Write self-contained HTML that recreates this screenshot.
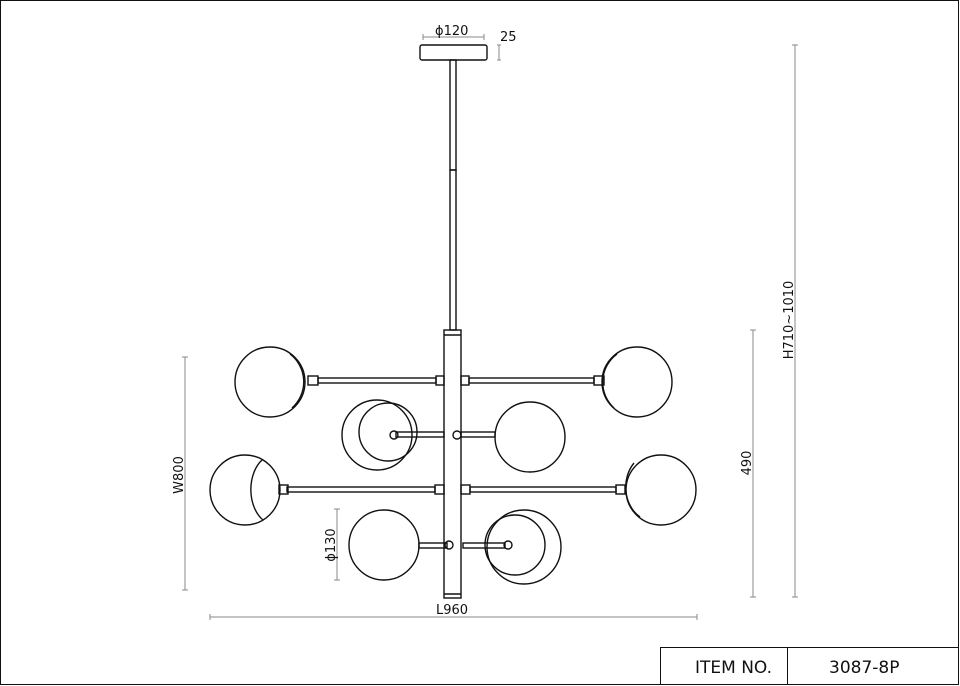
<!DOCTYPE html>
<html><head><style>
html,body{margin:0;padding:0;background:#fff;}
svg{display:block;}
text{font-family:"DejaVu Sans","Liberation Sans",sans-serif;fill:#111;}
</style></head><body>
<svg width="960" height="686" viewBox="0 0 960 686" xmlns="http://www.w3.org/2000/svg">
<rect x="0.5" y="0.5" width="958" height="684" fill="none" stroke="#111" stroke-width="1"/>
<rect x="660.5" y="647.5" width="298" height="37" fill="none" stroke="#111"/>
<line x1="787.5" y1="647" x2="787.5" y2="685" stroke="#111"/>
<text x="695" y="673" font-size="17">ITEM NO.</text>
<text x="829" y="673" font-size="17">3087-8P</text>

<g fill="none" stroke="#111" stroke-width="1.4">
<rect x="420" y="45" width="67" height="15" rx="2"/>
<rect x="450" y="60" width="6" height="110"/>
<rect x="450" y="170" width="6" height="160"/>
<rect x="444" y="330" width="17" height="268"/>
<line x1="444" y1="335" x2="461" y2="335"/>
<line x1="444" y1="594" x2="461" y2="594"/>

<rect x="318" y="378" width="118" height="5"/>
<rect x="308" y="376" width="10" height="9"/>
<rect x="436" y="376" width="8" height="9"/>
<rect x="461" y="376" width="8" height="9"/>
<rect x="469" y="378" width="125" height="5"/>
<rect x="594" y="376" width="10" height="9"/>
<circle cx="270" cy="382" r="35"/>
<path d="M290 354 A35 35 0 0 1 292 408"/>
<circle cx="637" cy="382" r="35"/>
<path d="M617 354 A35 35 0 0 0 614 408"/>

<circle cx="377" cy="435" r="35"/>
<circle cx="388" cy="432" r="29"/>
<rect x="396" y="432" width="48" height="5"/>
<circle cx="394" cy="435" r="4"/>
<rect x="461" y="432" width="34" height="5"/>
<circle cx="457" cy="435" r="4"/>
<circle cx="530" cy="437" r="35"/>

<rect x="287" y="487" width="148" height="5"/>
<rect x="279" y="485" width="9" height="9"/>
<rect x="435" y="485" width="9" height="9"/>
<rect x="461" y="485" width="9" height="9"/>
<rect x="470" y="487" width="146" height="5"/>
<rect x="616" y="485" width="9" height="9"/>
<circle cx="245" cy="490" r="35"/>
<path d="M262 460 A24 35 0 0 0 263 520"/>
<circle cx="661" cy="490" r="35"/>
<path d="M634 463 A30 35 0 0 0 640 517"/>

<circle cx="384" cy="545" r="35"/>
<rect x="419" y="543" width="28" height="5"/>
<circle cx="449" cy="545" r="4"/>
<rect x="463" y="543" width="42" height="5"/>
<circle cx="508" cy="545" r="4"/>
<circle cx="524" cy="547" r="37"/>
<circle cx="515" cy="545" r="30"/>
</g>

<g stroke="#888" stroke-width="1" fill="none">
<line x1="423" y1="37" x2="484" y2="37"/>
<line x1="423" y1="34" x2="423" y2="40"/><line x1="484" y1="34" x2="484" y2="40"/>
<line x1="499" y1="45" x2="499" y2="60"/>
<line x1="497" y1="45" x2="501" y2="45"/><line x1="497" y1="60" x2="501" y2="60"/>
<line x1="185" y1="357" x2="185" y2="590"/>
<line x1="182" y1="357" x2="188" y2="357"/><line x1="182" y1="590" x2="188" y2="590"/>
<line x1="210" y1="617" x2="697" y2="617"/>
<line x1="210" y1="614" x2="210" y2="620"/><line x1="697" y1="614" x2="697" y2="620"/>
<line x1="753" y1="330" x2="753" y2="597"/>
<line x1="750" y1="330" x2="756" y2="330"/><line x1="750" y1="597" x2="756" y2="597"/>
<line x1="795" y1="45" x2="795" y2="597"/>
<line x1="792" y1="45" x2="798" y2="45"/><line x1="792" y1="597" x2="798" y2="597"/>
<line x1="337" y1="509" x2="337" y2="580"/>
<line x1="334" y1="509" x2="340" y2="509"/><line x1="334" y1="580" x2="340" y2="580"/>
</g>
<g font-size="13">
<text x="435" y="35">ϕ120</text>
<text x="500" y="41">25</text>
<text x="436" y="614">L960</text>
<text transform="translate(183,475) rotate(-90)" text-anchor="middle">W800</text>
<text transform="translate(751,463) rotate(-90)" text-anchor="middle">490</text>
<text transform="translate(793,320) rotate(-90)" text-anchor="middle">H710~1010</text>
<text transform="translate(335,545) rotate(-90)" text-anchor="middle">ϕ130</text>
</g>
</svg>
</body></html>
